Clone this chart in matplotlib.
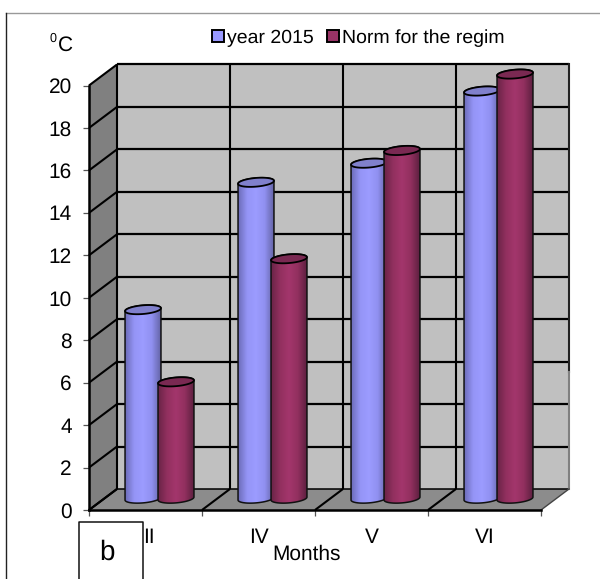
import numpy as np
import matplotlib.pyplot as plt
from matplotlib.colors import LinearSegmentedColormap
from matplotlib.patches import Patch, PathPatch, Polygon
from matplotlib.path import Path
from matplotlib.transforms import ScaledTranslation

plt.rcParams['font.family'] = ['Liberation Sans', 'DejaVu Sans']
plt.rcParams['text.hinting'] = 'no_hinting'

months = ['II', 'IV', 'V', 'VI']
year_2015 = [8.9, 14.9, 15.8, 19.2]
norm_regim = [5.5, 11.3, 16.4, 20.0]
y_ticks = list(range(0, 21, 2))

W, H = 600, 579
DEPTH_X = 28 / 113   # depth of the box in category units
DEPTH_Y = 21 / 21.2  # depth of the box in value units
BASE_Y = 0.54
RADIUS_X = 0.159
RADIUS_Y = 0.205
TILT = 0.07

blue_cmap = LinearSegmentedColormap.from_list(
    'blue', ['#6C6CB8', '#9494F6', '#9C9CFF', '#9090F0', '#6565A8'])
maroon_cmap = LinearSegmentedColormap.from_list(
    'maroon', ['#6A2447', '#92305F', '#A3366C', '#92305F', '#5E2040'])


def rim(cx, cy, start, stop, n=60):
    """Points along the tilted ellipse of a cylinder end"""
    t = np.linspace(start, stop, n)
    return np.column_stack([cx + RADIUS_X * np.cos(t),
                            cy + RADIUS_Y * np.sin(t) + TILT * np.cos(t)])


def draw_cylinder(ax, cx, value, cmap, cap_color):
    top = BASE_Y + value
    # body: top rim right to left, then the lower half of the base
    pts = np.vstack([rim(cx, top, 0, np.pi),
                     rim(cx, BASE_Y, np.pi, 2 * np.pi)])
    body = PathPatch(Path(np.vstack([pts, pts[:1]])), fc='none', ec='none',
                     transform=ax.transData)
    ax.add_patch(body)
    img = ax.imshow(np.linspace(0, 1, 64).reshape(1, -1), cmap=cmap,
                    extent=[cx - RADIUS_X, cx + RADIUS_X, BASE_Y - 0.5, top + 0.5],
                    aspect='auto', zorder=3, interpolation='bilinear')
    img.set_clip_path(body)
    img.set_clip_box(ax.figure.bbox)
    ax.add_patch(Polygon(pts, closed=True, fc='none', ec='#111111', lw=1.1,
                         zorder=3, clip_on=False))
    ax.add_patch(Polygon(rim(cx, top, 0, 2 * np.pi), closed=True, fc=cap_color,
                         ec='black', lw=1.3, zorder=3, clip_on=False))


def draw_box(ax):
    n = len(months)
    ymax = y_ticks[-1]
    wall = dict(zorder=1, clip_on=False, lw=0)
    ax.add_patch(Polygon([(0, 0), (n, 0), (n + DEPTH_X, DEPTH_Y),
                          (DEPTH_X, DEPTH_Y)], fc='#8C8C8C', **wall))
    ax.add_patch(Polygon([(0, 0), (DEPTH_X, DEPTH_Y), (DEPTH_X, ymax + DEPTH_Y),
                          (0, ymax)], fc='#808080', **wall))
    ax.add_patch(Polygon([(DEPTH_X, DEPTH_Y), (n + DEPTH_X, DEPTH_Y),
                          (n + DEPTH_X, ymax + DEPTH_Y), (DEPTH_X, ymax + DEPTH_Y)],
                         fc='#C0C0C0', **wall))
    line = dict(color='black', zorder=2, clip_on=False, solid_capstyle='butt')
    # horizontal grid on the back wall and its continuation on the side wall
    for v in y_ticks:
        lw = 1.1 if v == 0 else 1.6
        ax.plot([DEPTH_X, n + DEPTH_X], [v + DEPTH_Y] * 2, lw=lw, **line)
        ax.plot([0, DEPTH_X], [v, v + DEPTH_Y], lw=1.5, **line)
    # vertical grid and floor divisions
    for k in range(n):
        ax.plot([k + DEPTH_X] * 2, [DEPTH_Y, ymax + DEPTH_Y], lw=1.5, **line)
        ax.plot([k, k + DEPTH_X], [0, DEPTH_Y], lw=1.5, **line)
    # right edge of the back wall fades out towards the floor
    ax.plot([n + DEPTH_X] * 2, [5.5 + DEPTH_Y, ymax + DEPTH_Y], lw=1.5,
            color='#222222', zorder=2, clip_on=False)
    ax.plot([n + DEPTH_X] * 2, [DEPTH_Y, 5.5 + DEPTH_Y], lw=1.5, color='#808080',
            zorder=2, clip_on=False)
    ax.plot([n, n + DEPTH_X], [0, DEPTH_Y], lw=1.0, color='#444444',
            zorder=2, clip_on=False)


def plot_chart():
    fig = plt.figure(figsize=(W / 100, H / 100), dpi=100, facecolor='white')
    ax = fig.add_axes([89 / W, (H - 510) / H, 452 / W, 424.5 / H])
    ax.patch.set_alpha(0)
    x = np.arange(len(months))

    draw_box(ax)
    shift = 0.5 + DEPTH_X / 2
    for k in x:
        draw_cylinder(ax, k + shift - 0.146, year_2015[k], blue_cmap, '#8080CC')
        draw_cylinder(ax, k + shift + 0.146, norm_regim[k], maroon_cmap, '#7A2952')

    ax.set_xlim(0, len(months))
    ax.set_ylim(0, y_ticks[-1])
    for side in ['top', 'right']:
        ax.spines[side].set_visible(False)
    for side in ['left', 'bottom']:
        ax.spines[side].set_linewidth(1.8)
        ax.spines[side].set_zorder(2.5)
    ax.set_yticks(y_ticks)
    ax.tick_params(axis='y', labelsize=15, length=4.3, width=0.9, color='#555555', pad=8)
    ax.set_xticks(np.arange(len(months) + 1))
    ax.set_xticklabels([])
    ax.tick_params(axis='x', which='major', length=4.3, width=0.9, color='#555555')
    ax.set_xticks(x + 0.5, minor=True)
    ax.set_xticklabels(months, minor=True)
    ax.tick_params(axis='x', which='minor', length=0, labelsize=15, pad=13)
    # first label sits just right of the letter box
    first = ax.get_xticklabels(minor=True)[0]
    first.set_transform(first.get_transform() + ScaledTranslation(0.035, 0, fig.dpi_scale_trans))

    handles = [Patch(fc='#9999FF', ec='black', lw=1.4, label='year 2015'),
               Patch(fc='#993366', ec='black', lw=1.4, label='Norm for the regim')]
    fig.legend(handles=handles, ncol=2, frameon=False, fontsize=14,
               loc='center', bbox_to_anchor=(358.5 / W, 1 - 38 / H),
               handlelength=0.6, handleheight=0.62, handletextpad=0.15,
               columnspacing=0.7, borderpad=0, borderaxespad=0)

    fig.text(65 / W, 1 - 45 / H, 'C', fontsize=15, ha='center', va='center')
    fig.text(53 / W, 1 - 39 / H, '0', fontsize=9, ha='center', va='center')
    fig.text(307 / W, 1 - 554 / H, 'Months', fontsize=15, ha='center', va='center')
    fig.text(107 / W, 1 - 552 / H, 'b', fontsize=20, ha='center', va='center')

    # panel frame and the letter box
    def frame(xs, ys, color, lw):
        fig.add_artist(plt.Line2D(np.array(xs) / W, 1 - np.array(ys) / H,
                                  color=color, lw=lw))
    frame([5.5, 600], [12.5, 12.5], '#999999', 1.0)
    frame([5.5, 5.5], [12.5, 579], '#222222', 1.0)
    frame([78.5, 78.5, 142.5, 142.5], [579, 522, 522, 579], '#111111', 1.1)

    plt.savefig('out.png', dpi=100)
    plt.close()


if __name__ == "__main__":
    plot_chart()
